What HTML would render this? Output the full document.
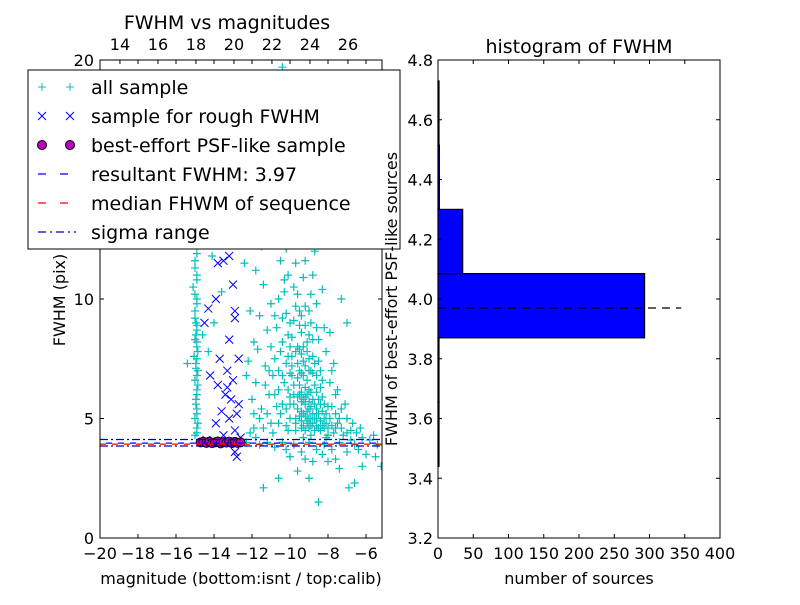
<!DOCTYPE html>
<html><head><meta charset="utf-8"><style>
body{margin:0;background:#fff;font-family:"Liberation Sans","DejaVu Sans",sans-serif}
text{font-family:"DejaVu Sans","Liberation Sans",sans-serif}
</style></head><body>
<svg id="c" width="800" height="600" xmlns="http://www.w3.org/2000/svg"></svg>
<script>
const allSample=[[-15.0,4.3],[-14.9,4.6],[-15.0,5.0],[-14.9,5.4],[-14.95,5.8],[-14.9,6.2],[-15.0,6.6],[-14.85,7.0],[-14.95,7.3],[-15.05,7.6],[-14.9,8.0],[-15.0,8.3],[-14.9,8.7],[-14.95,9.0],[-15.0,9.5],[-14.9,10.0],[-15.1,10.5],[-14.9,11.0],[-15.0,11.6],[-14.8,12.3],[-14.9,13.2],[-15.2,14.5],[-15.4,7.3],[-14.6,8.5],[-14.3,7.8],[-14.1,11.8],[-14.0,9.0],[-13.6,10.3],[-13.8,12.8],[-12.2,13.1],[-12.0,12.3],[-11.8,11.2],[-11.4,10.6],[-11.6,9.3],[-11.2,8.7],[-11.7,7.9],[-11.3,7.2],[-11.8,6.5],[-11.1,6.0],[-11.5,5.4],[-11.0,4.8],[-11.9,4.6],[-10.8,12.5],[-10.5,11.6],[-10.3,10.8],[-10.6,10.0],[-10.2,9.4],[-10.7,8.8],[-10.4,8.2],[-10.1,7.6],[-10.6,7.0],[-10.3,6.5],[-10.8,6.0],[-10.0,5.6],[-10.5,5.2],[-10.2,4.7],[-10.9,4.4],[-9.8,13.5],[-9.5,12.4],[-9.7,11.5],[-9.3,10.9],[-9.6,10.2],[-9.2,9.7],[-9.8,9.1],[-9.4,8.6],[-9.1,8.2],[-9.7,7.8],[-9.3,7.4],[-9.0,7.0],[-9.6,6.7],[-9.2,6.3],[-9.8,6.0],[-9.4,5.7],[-9.0,5.4],[-9.5,5.1],[-9.1,4.8],[-9.7,4.5],[-9.3,4.2],[-9.6,8.0],[-9.9,7.2],[-9.5,6.4],[-9.2,5.9],[-8.8,11.0],[-8.6,9.8],[-8.9,9.0],[-8.5,8.3],[-8.8,7.6],[-8.4,7.0],[-8.7,6.4],[-8.3,5.9],[-8.6,5.4],[-8.2,5.0],[-8.5,4.6],[-8.9,4.3],[-8.1,4.2],[-8.6,6.8],[-8.9,6.1],[-8.4,5.6],[-7.9,8.6],[-7.7,7.3],[-7.5,6.2],[-7.8,5.5],[-7.4,5.0],[-7.6,4.6],[-7.2,4.3],[-7.0,9.0],[-6.8,4.5],[-6.5,4.4],[-6.2,4.2],[-5.8,4.1],[-5.4,3.9],[-5.2,3.0],[-6.0,3.5],[-6.6,2.3],[-6.9,2.1],[-7.6,3.3],[-8.3,3.5],[-8.8,3.2],[-9.0,2.5],[-9.6,2.8],[-10.0,3.4],[-10.6,2.5],[-11.4,2.1],[-8.5,1.5],[-11.8,4.2],[-11.2,4.0],[-10.4,4.0],[-9.8,3.9],[-9.0,4.0],[-8.2,3.9],[-7.4,4.0],[-6.6,3.9],[-12.3,4.0],[-10.1,11.0],[-9.3,12.8],[-10.9,14.8],[-11.5,13.8],[-9.0,15.5],[-8.3,16.5],[-9.6,18.5],[-10.4,19.7],[-8.7,12.0],[-12.5,13.8],[-13.1,14.4],[-7.3,10.0],[-9.9,6.8],[-8.1,7.8],[-10.8,7.5],[-11.0,9.8],[-12.4,11.5],[-12.1,9.5],[-11.9,8.2],[-12.3,6.8],[-12.0,5.8],[-9.4,9.3],[-8.3,10.4],[-9.8,10.5],[-7.9,6.5],[-8.0,4.6],[-7.1,5.6],
[-14.9,4.4],[-14.85,4.8],[-14.9,5.2],[-14.95,5.6],[-14.9,6.0],[-14.85,6.4],[-14.9,6.8],[-14.95,7.1],[-14.9,7.5],[-14.85,7.8],[-14.9,8.2],[-14.95,8.5],[-14.9,8.9],[-15.0,9.2],[-14.9,9.8],[-15.0,10.2],[-14.9,10.8],[-15.0,11.3],[-14.9,11.9],[-15.1,12.6],
[-10.0,9.0],[-10.1,8.5],[-10.0,8.0],[-10.2,7.3],[-10.0,6.9],[-10.1,6.2],[-10.0,5.9],[-10.2,5.4],[-10.0,5.0],[-10.1,4.5],[-9.9,8.4],[-9.9,7.6],[-9.8,6.4],[-9.8,5.6],[-9.7,5.0],[-9.7,4.8],[-9.6,7.3],[-9.6,5.9],[-9.6,5.4],[-9.5,9.5],[-9.5,8.9],[-9.5,7.9],[-9.5,7.0],[-9.5,6.0],[-9.4,5.3],[-9.4,4.9],[-9.4,4.6],[-9.4,7.7],[-9.4,6.9],[-9.4,6.1],[-9.3,8.0],[-9.3,6.8],[-9.3,5.8],[-9.3,5.2],[-9.3,4.7],[-9.2,8.9],[-9.2,7.2],[-9.2,5.6],[-9.2,5.1],[-9.2,4.5],[-9.1,7.8],[-9.1,6.6],[-9.1,6.0],[-9.1,5.3],[-9.1,4.9],[-9.0,8.5],[-9.0,7.5],[-9.0,6.2],[-9.0,5.7],[-9.0,5.0],[-9.0,4.6],[-8.9,7.0],[-8.9,5.5],[-8.9,5.0],[-8.9,4.7],[-8.8,8.3],[-8.8,6.9],[-8.8,5.8],[-8.8,5.2],[-8.8,4.8],[-8.7,7.3],[-8.7,5.6],[-8.7,5.0],[-8.7,4.5],[-8.6,6.1],[-8.6,5.0],[-8.6,4.7],[-8.5,7.4],[-8.5,5.8],[-8.5,5.2],[-8.4,6.3],[-8.4,4.9],[-8.4,4.5],[-8.3,6.6],[-8.3,5.3],[-8.3,4.7],[-8.2,5.6],[-8.2,4.6],[-8.1,5.2],[-8.1,4.8],[-8.0,5.5],[-8.0,4.3],[-7.9,5.0],[-7.8,4.7],[-7.7,4.4],[-7.6,5.2],[-7.5,4.8],[-7.3,4.6],[-7.0,4.4],[-6.8,4.1],[-6.3,4.6],[-5.6,4.3],
[-10.4,9.2],[-10.5,7.8],[-10.4,6.8],[-10.6,6.2],[-10.4,5.6],[-10.6,4.8],[-10.7,5.5],[-10.9,6.8],[-10.8,9.3],[-11.0,8.0],[-11.1,7.0],[-11.2,5.2],[-11.3,6.4],[-11.4,4.6],[-11.6,5.0],[-11.9,5.2],[-12.1,4.4],[-12.2,7.4],[-11.5,12.2],[-10.2,12.1],[-9.9,12.9],[-9.2,11.6],[-8.9,10.2],[-9.7,9.7],[-10.3,10.3],[-9.0,9.5],[-8.6,8.8],[-8.2,8.8],[-7.8,7.0],[-7.6,6.0],[-7.3,5.4],[-7.0,5.0],[-6.7,4.8],[-6.4,3.7],[-7.0,3.6],[-7.8,3.7],[-8.6,3.7],[-9.4,3.6],[-10.2,3.7],[-8.0,3.2],[-7.4,2.9],[-9.2,3.3],[-10.8,3.8],[-11.6,3.9],[-6.2,3.0],[-5.5,3.4]];
const roughSample=[[-13.8,11.5],[-13.5,11.6],[-13.2,11.8],[-12.9,9.5],[-12.9,9.2],[-13.2,8.3],[-13.7,7.5],[-13.3,7.0],[-13.0,6.6],[-13.8,6.4],[-13.4,6.0],[-13.1,5.8],[-12.7,5.6],[-13.6,5.3],[-13.2,5.0],[-12.8,5.2],[-14.2,6.8],[-12.9,4.5],[-12.9,3.6],[-12.8,3.4],[-13.5,4.3],[-14.5,9.0],[-14.3,9.6],[-13.9,10.0],[-13.0,10.6],[-12.7,7.5],[-13.9,4.8],[-14.4,4.1],[-12.6,4.2],[-13.3,6.3]];
const psfSample=[[-14.7,4.0],[-14.55,4.02],[-14.4,3.98],[-14.25,4.03],[-14.1,3.97],[-13.95,4.0],[-13.8,4.04],[-13.65,3.96],[-13.5,4.01],[-13.35,3.99],[-13.2,4.03],[-13.05,3.97],[-12.9,4.02],[-12.75,3.98],[-12.6,4.0]];
const resultFWHM=3.97, medianFWHM=3.97, sigmaLow=3.85, sigmaHigh=4.12;
const histEdges=[3.44,3.655,3.87,4.085,4.30,4.515,4.73];
const histCounts=[1,1,293,35,2,1];
const xTicks=[-20,-18,-16,-14,-12,-10,-8,-6];
const topTicks=[14,16,18,20,22,24,26];
const yTicks=[0,5,10,20];
const hxTicks=[0,50,100,150,200,250,300,350,400];
const hyTicks=[3.2,3.4,3.6,3.8,4.0,4.2,4.4,4.6,4.8];

const svg=document.getElementById('c');const NS='http://www.w3.org/2000/svg';
function el(t,a,p){const e=document.createElementNS(NS,t);for(const k in a)e.setAttribute(k,a[k]);(p||svg).appendChild(e);return e;}
function txt(s,a,p){const e=el('text',a,p);e.textContent=s;return e;}
const mx=m=>100+(m+20)*19, fy=f=>538-f*23.9, tx=v=>mx(v-32.95);
const hx=c=>438+c*0.705, hy=v=>538-(v-3.2)*298.75;
const FS=16;

const gL=el('g',{});
el('clipPath',{id:'cl'}).appendChild(el('rect',{x:100,y:60,width:282,height:478}));
const pts=el('g',{'clip-path':'url(#cl)'},gL);
allSample.forEach(p=>{const x=mx(p[0]),y=fy(p[1]);const e=el('path',{d:`M${x-4} ${y}H${x+4}M${x} ${y-4}V${y+4}`,stroke:'#00bfbf','stroke-width':1.2},pts);});
roughSample.forEach(p=>{const x=mx(p[0]),y=fy(p[1]);const e=el('path',{d:`M${x-4} ${y-4}L${x+4} ${y+4}M${x-4} ${y+4}L${x+4} ${y-4}`,stroke:'#0000ff','stroke-width':1},pts);});
psfSample.forEach(p=>{const e=el('circle',{cx:mx(p[0]),cy:fy(p[1]),r:4.5,fill:'#bf00bf',stroke:'#000','stroke-width':1},pts);});
[[sigmaLow,'8,3,2,3','#0000bf'],[sigmaHigh,'8,3,2,3','#0000bf'],[medianFWHM,'6,6','#ff0000'],[resultFWHM,'6,6','#0000ff']].forEach((d,i)=>{const e=el('line',{x1:100,x2:382,y1:fy(d[0])+(i==2?1:0),y2:fy(d[0])+(i==2?1:0),stroke:d[2],'stroke-width':1.2,'stroke-dasharray':d[1],'stroke-dashoffset':i==3?6:0},pts);});
el('rect',{x:100,y:60,width:282,height:478,fill:'none',stroke:'#000'},gL);
xTicks.forEach(v=>{const x=mx(v);el('path',{d:`M${x} 538v-4M${x} 60v4`,stroke:'#000'},gL);txt((v<0?'\u2212':'')+Math.abs(v),{x:x,y:559,'text-anchor':'middle','font-size':FS},gL);});
topTicks.forEach(v=>{const x=tx(v);el('path',{d:`M${x} 60v4`,stroke:'#000'},gL);txt(v,{x:x,y:50,'text-anchor':'middle','font-size':FS},gL);});
yTicks.forEach(v=>{const y=fy(v);el('path',{d:`M100 ${y}h4M382 ${y}h-4`,stroke:'#000'},gL);txt(v,{x:94,y:y+6,'text-anchor':'end','font-size':FS},gL);});
txt('FWHM vs magnitudes',{x:227,y:29,'text-anchor':'middle','font-size':19,});
txt('magnitude (bottom:isnt / top:calib)',{x:241,y:584,'text-anchor':'middle','font-size':16,});
txt('FWHM (pix)',{x:65,y:300,'text-anchor':'middle','font-size':16,transform:'rotate(-90 65 300)',});

const lg=el('g',{});
el('rect',{x:28,y:70,width:372,height:179,fill:'#fff',stroke:'#000'},lg);
const items=['all sample','sample for rough FWHM','best-effort PSF-like sample','resultant FWHM: 3.97','median FHWM of sequence','sigma range'];
items.forEach((s,i)=>{const y=87+i*29;const g=el('g',{},lg);
 [42,70].forEach(x=>{if(i==0)el('path',{d:`M${x-4} ${y}H${x+4}M${x} ${y-4}V${y+4}`,stroke:'#00bfbf'},g);
 if(i==1)el('path',{d:`M${x-4} ${y-4}L${x+4} ${y+4}M${x-4} ${y+4}L${x+4} ${y-4}`,stroke:'#00f'},g);
 if(i==2)el('circle',{cx:x,cy:y,r:4.5,fill:'#bf00bf',stroke:'#000'},g);});
 if(i==3)el('line',{x1:38,x2:76,y1:y,y2:y,stroke:'#00f','stroke-width':1.2,'stroke-dasharray':'8,14'},g);
 if(i==4)el('line',{x1:38,x2:76,y1:y,y2:y,stroke:'#f00','stroke-width':1.2,'stroke-dasharray':'8,14'},g);
 if(i==5)el('line',{x1:38,x2:76,y1:y,y2:y,stroke:'#0000bf','stroke-width':1.2,'stroke-dasharray':'8,4,2,4'},g);
 txt(s,{x:91,y:y+7,'font-size':19},g);});

const gR=el('g',{});
histCounts.forEach((c,i)=>{const y0=hy(histEdges[i+1]),y1=hy(histEdges[i]);const e=el('rect',{x:438,y:y0,width:Math.max(hx(c)-438,1),height:y1-y0,fill:'#0000ff',stroke:'#000','stroke-width':1.2},gR);});
const rl=el('line',{x1:438,x2:hx(345),y1:hy(resultFWHM),y2:hy(resultFWHM),stroke:'#000','stroke-width':1.2,'stroke-dasharray':'8,6'},gR);
el('rect',{x:438,y:60,width:282,height:478,fill:'none',stroke:'#000'},gR);
hxTicks.forEach(v=>{const x=hx(v);el('path',{d:`M${x} 538v-4M${x} 60v4`,stroke:'#000'},gR);txt(v,{x:x,y:559,'text-anchor':'middle','font-size':FS},gR);});
hyTicks.forEach(v=>{const y=hy(v);el('path',{d:`M438 ${y}h4M720 ${y}h-4`,stroke:'#000'},gR);txt(v.toFixed(1),{x:433,y:y+6,'text-anchor':'end','font-size':FS},gR);});
txt('histogram of FWHM',{x:579,y:53,'text-anchor':'middle','font-size':19,});
txt('number of sources',{x:579,y:584,'text-anchor':'middle','font-size':16,});
txt('FWHM of best-effort PSF-like sources',{x:397,y:299,'text-anchor':'middle','font-size':16,transform:'rotate(-90 397 299)',});
</script>
</body></html>
